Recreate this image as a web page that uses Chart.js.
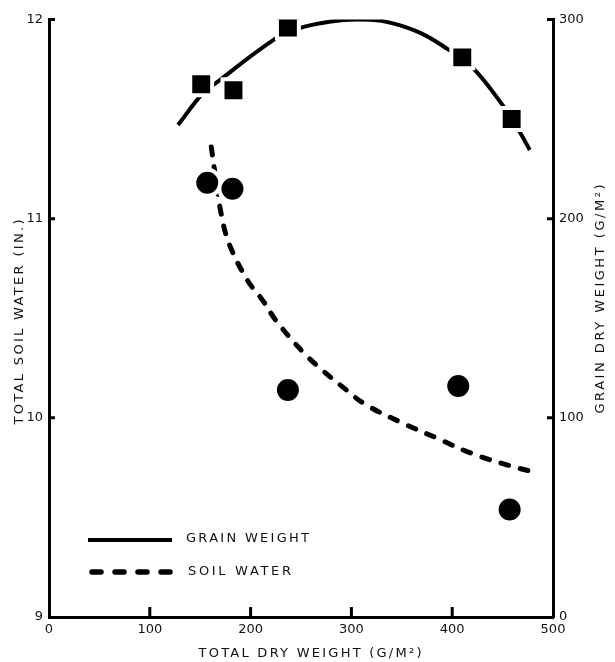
<!DOCTYPE html>
<html>
<head>
<meta charset="utf-8">
<script src="https://cdn.jsdelivr.net/npm/chart.js@4"></script>
<style>
html, body { margin: 0; padding: 0; background: #fff; }
</style>
</head>
<body>
<canvas id="plot" width="615" height="662"></canvas>
<script>
// Grain dry weight (squares, right axis, g/m2)
const grainX = [151, 183, 237, 410, 459];
const grainY = [267.5, 264.5, 296, 281, 250];

// Total soil water (circles, left axis, in.)
const waterX = [157, 182, 237, 406, 457];
const waterY = [11.18, 11.15, 10.14, 10.16, 9.54];

// hand-drawn fitted curves
const grainFitX = [128, 151, 164, 225, 247, 280, 305, 330, 365, 396, 420, 450, 467, 477];
const grainFitY = [247, 262, 267.5, 290.5, 295.5, 299, 300, 299.3, 294, 285, 276, 257, 243.5, 234.5];
const waterFitX = [161, 164, 171, 179, 197, 212, 225, 252, 271, 295, 313, 348, 384, 420, 457, 479];
const waterFitY = [11.36, 11.25, 11.02, 10.87, 10.69, 10.59, 10.49, 10.33, 10.24, 10.14, 10.07, 9.98, 9.90, 9.82, 9.76, 9.73];

const xTicks = [0, 100, 200, 300, 400, 500];
const waterTicks = [9, 10, 11, 12];
const grainTicks = [0, 100, 200, 300];

const ink = '#111';
const tickFont = { family: 'DejaVu Sans', size: 13 };

function pts(xs, ys) {
  return xs.map((x, i) => ({ x: x, y: ys[i] }));
}

function setTicks(values) {
  return function(scale) {
    scale.ticks = values.map(v => ({ value: v }));
  };
}

// text stretched to a given width, like the lettering on the original
function spacedText(ctx, text, cx, cy, width, angle) {
  ctx.save();
  ctx.translate(cx, cy);
  ctx.rotate(angle);
  ctx.font = '13px "DejaVu Sans"';
  ctx.fillStyle = ink;
  ctx.letterSpacing = '0px';
  const raw = ctx.measureText(text).width;
  const gap = (width - raw) / (text.length - 1);
  ctx.letterSpacing = gap + 'px';
  ctx.textAlign = 'left';
  ctx.textBaseline = 'middle';
  ctx.fillText(text, -width / 2, 0);
  ctx.restore();
}

const decor = {
  id: 'decor',
  afterDraw(chart) {
    const ctx = chart.ctx;
    const a = chart.chartArea;
    const sx = chart.scales.x, sy = chart.scales.y, sg = chart.scales.y2;

    // inward tick marks
    ctx.save();
    ctx.strokeStyle = '#000';
    ctx.lineWidth = 3;
    ctx.beginPath();
    [100, 200, 300, 400].forEach(v => {
      const px = sx.getPixelForValue(v);
      ctx.moveTo(px, a.bottom);
      ctx.lineTo(px, a.bottom - 10);
    });
    [10, 11, 12].forEach(v => {
      const py = sy.getPixelForValue(v);
      ctx.moveTo(a.left, py);
      ctx.lineTo(a.left + 6, py);
    });
    [100, 200, 300].forEach(v => {
      const py = sg.getPixelForValue(v);
      ctx.moveTo(a.right, py);
      ctx.lineTo(a.right - 6, py);
    });
    ctx.stroke();

    // legend
    ctx.lineWidth = 4;
    ctx.lineCap = 'butt';
    ctx.beginPath();
    ctx.moveTo(88, 540);
    ctx.lineTo(172, 540);
    ctx.stroke();
    ctx.lineWidth = 5.5;
    ctx.lineCap = 'round';
    ctx.setLineDash([9, 14]);
    ctx.beginPath();
    ctx.moveTo(92, 572);
    ctx.lineTo(172, 572);
    ctx.stroke();
    ctx.restore();

    spacedText(ctx, 'GRAIN WEIGHT', 186 + 123 / 2, 539, 123, 0);
    spacedText(ctx, 'SOIL WATER', 188 + 103 / 2, 572, 103, 0);

    // axis titles
    spacedText(ctx, 'TOTAL DRY WEIGHT (G/M²)', 310, 654, 223, 0);
    spacedText(ctx, 'TOTAL SOIL WATER (IN.)', 20, 322, 205, -Math.PI / 2);
    spacedText(ctx, 'GRAIN DRY WEIGHT (G/M²)', 601, 299, 229, -Math.PI / 2);
  }
};

new Chart(document.getElementById('plot'), {
  type: 'scatter',
  data: {
    datasets: [
      {
        label: 'Grain weight',
        data: pts(grainX, grainY),
        yAxisID: 'y2',
        pointStyle: 'rect',
        pointRadius: 15.5,
        backgroundColor: '#000',
        borderColor: '#fff',
        borderWidth: 4,
        order: 0
      },
      {
        label: 'Soil water',
        data: pts(waterX, waterY),
        yAxisID: 'y',
        pointStyle: 'circle',
        pointRadius: 13,
        backgroundColor: '#000',
        borderColor: '#fff',
        borderWidth: 4,
        order: 0
      },
      {
        label: 'Grain fit',
        data: pts(grainFitX, grainFitY),
        yAxisID: 'y2',
        showLine: true,
        pointRadius: 0,
        borderColor: '#000',
        borderWidth: 4,
        tension: 0.4,
        order: 1
      },
      {
        label: 'Water fit',
        data: pts(waterFitX, waterFitY),
        yAxisID: 'y',
        showLine: true,
        pointRadius: 0,
        borderColor: '#000',
        borderWidth: 5,
        borderDash: [8, 12],
        borderCapStyle: 'round',
        tension: 0.4,
        order: 1
      }
    ]
  },
  options: {
    responsive: false,
    animation: false,
    devicePixelRatio: 1,
    layout: { padding: { top: 13, left: 0, right: 0, bottom: 0 } },
    plugins: { legend: { display: false }, tooltip: { enabled: false } },
    scales: {
      x: {
        type: 'linear',
        min: 0, max: 500,
        afterBuildTicks: setTicks(xTicks),
        afterFit(s) { s.height = 45; },
        grid: { drawOnChartArea: false, drawTicks: false },
        border: { color: '#000', width: 3 },
        ticks: { color: ink, font: tickFont, padding: 5, maxRotation: 0 }
      },
      y: {
        position: 'left',
        min: 9, max: 12,
        afterBuildTicks: setTicks(waterTicks),
        afterFit(s) { s.width = 49; },
        grid: { drawOnChartArea: false, drawTicks: false },
        border: { color: '#000', width: 3 },
        ticks: { color: ink, font: tickFont, padding: 6 }
      },
      y2: {
        position: 'right',
        min: 0, max: 300,
        afterBuildTicks: setTicks(grainTicks),
        afterFit(s) { s.width = 62; },
        grid: { drawOnChartArea: false, drawTicks: false },
        border: { color: '#000', width: 3 },
        ticks: { color: ink, font: tickFont, padding: 6 }
      }
    }
  },
  plugins: [decor]
});
</script>
</body>
</html>
